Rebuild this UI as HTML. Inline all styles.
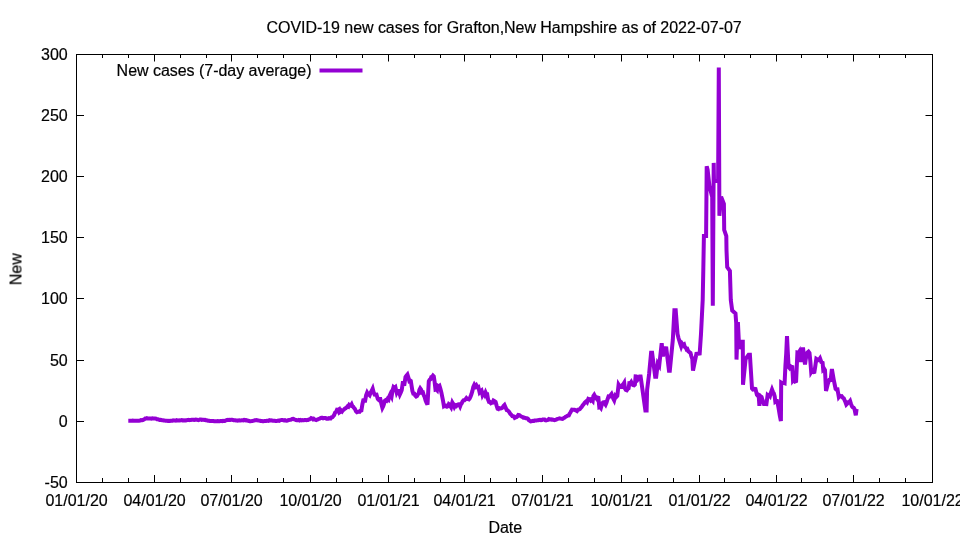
<!DOCTYPE html>
<html><head><meta charset="utf-8"><title>COVID-19 new cases for Grafton,New Hampshire</title>
<style>html,body{margin:0;padding:0;background:#fff;}body{width:960px;height:540px;overflow:hidden;}svg{display:block;}text{font-family:"Liberation Sans",sans-serif;font-size:16px;fill:#000;stroke:#000;stroke-width:0.2px;}</style></head><body>
<svg width="960" height="540" viewBox="0 0 960 540">
<rect x="0" y="0" width="960" height="540" fill="#fff"/>
<path d="M76.5,482.5v-7.5M76.5,54.5v7.0M102.5,482.5v-4.5M102.5,54.5v3.5M128.5,482.5v-4.5M128.5,54.5v3.5M154.5,482.5v-7.5M154.5,54.5v7.0M180.5,482.5v-4.5M180.5,54.5v3.5M206.5,482.5v-4.5M206.5,54.5v3.5M231.5,482.5v-7.5M231.5,54.5v7.0M257.5,482.5v-4.5M257.5,54.5v3.5M283.5,482.5v-4.5M283.5,54.5v3.5M310.5,482.5v-7.5M310.5,54.5v7.0M336.5,482.5v-4.5M336.5,54.5v3.5M362.5,482.5v-4.5M362.5,54.5v3.5M388.5,482.5v-7.5M388.5,54.5v7.0M414.5,482.5v-4.5M414.5,54.5v3.5M440.5,482.5v-4.5M440.5,54.5v3.5M464.5,482.5v-7.5M464.5,54.5v7.0M490.5,482.5v-4.5M490.5,54.5v3.5M516.5,482.5v-4.5M516.5,54.5v3.5M542.5,482.5v-7.5M542.5,54.5v7.0M568.5,482.5v-4.5M568.5,54.5v3.5M594.5,482.5v-4.5M594.5,54.5v3.5M621.5,482.5v-7.5M621.5,54.5v7.0M647.5,482.5v-4.5M647.5,54.5v3.5M673.5,482.5v-4.5M673.5,54.5v3.5M699.5,482.5v-7.5M699.5,54.5v7.0M724.5,482.5v-4.5M724.5,54.5v3.5M750.5,482.5v-4.5M750.5,54.5v3.5M776.5,482.5v-7.5M776.5,54.5v7.0M801.5,482.5v-4.5M801.5,54.5v3.5M827.5,482.5v-4.5M827.5,54.5v3.5M853.5,482.5v-7.5M853.5,54.5v7.0M879.5,482.5v-4.5M879.5,54.5v3.5M905.5,482.5v-4.5M905.5,54.5v3.5M932.5,482.5v-7.5M932.5,54.5v7.0M76.5,54.5h7.5M932.5,54.5h-7M76.5,115.5h7.5M932.5,115.5h-7M76.5,176.5h7.5M932.5,176.5h-7M76.5,237.5h7.5M932.5,237.5h-7M76.5,298.5h7.5M932.5,298.5h-7M76.5,360.5h7.5M932.5,360.5h-7M76.5,421.5h7.5M932.5,421.5h-7M76.5,482.5h7.5M932.5,482.5h-7" stroke="#000" stroke-width="1" fill="none"/>
<rect x="76.5" y="54.5" width="856.0" height="428.0" fill="none" stroke="#000" stroke-width="1"/>
<g opacity="0.999">
<text x="76.60" y="506" text-anchor="middle">01/01/20</text>
<text x="154.60" y="506" text-anchor="middle">04/01/20</text>
<text x="231.60" y="506" text-anchor="middle">07/01/20</text>
<text x="310.60" y="506" text-anchor="middle">10/01/20</text>
<text x="388.60" y="506" text-anchor="middle">01/01/21</text>
<text x="464.60" y="506" text-anchor="middle">04/01/21</text>
<text x="542.60" y="506" text-anchor="middle">07/01/21</text>
<text x="621.60" y="506" text-anchor="middle">10/01/21</text>
<text x="699.60" y="506" text-anchor="middle">01/01/22</text>
<text x="776.60" y="506" text-anchor="middle">04/01/22</text>
<text x="853.60" y="506" text-anchor="middle">07/01/22</text>
<text x="932.60" y="506" text-anchor="middle">10/01/22</text>
<text x="67.7" y="60.40" text-anchor="end">300</text>
<text x="67.7" y="121.40" text-anchor="end">250</text>
<text x="67.7" y="182.40" text-anchor="end">200</text>
<text x="67.7" y="243.40" text-anchor="end">150</text>
<text x="67.7" y="304.40" text-anchor="end">100</text>
<text x="67.7" y="366.40" text-anchor="end">50</text>
<text x="67.7" y="427.40" text-anchor="end">0</text>
<text x="67.7" y="488.40" text-anchor="end">-50</text>
<text x="266.6" y="33" textLength="475.1" lengthAdjust="spacing">COVID-19 new cases for Grafton,New Hampshire as of 2022-07-07</text>
<text x="505.3" y="532.5" text-anchor="middle">Date</text>
<text transform="translate(21.5,269.25) rotate(-90)" text-anchor="middle">New</text>
<text x="116.6" y="76" textLength="194.9" lengthAdjust="spacing">New cases (7-day average)</text>
</g>
<path d="M319.5,70.5H362.5" stroke="#9400d3" stroke-width="4" fill="none"/>
<polyline fill="none" stroke="#9400d3" stroke-width="4" stroke-linejoin="miter" stroke-miterlimit="3.8" stroke-linecap="butt" points="128.3,420.7 129.2,420.7 130.1,420.8 131.0,420.7 131.9,420.7 132.8,420.6 133.7,420.7 134.5,420.8 135.4,420.7 136.3,420.8 137.2,420.7 138.1,420.7 139.0,420.7 140.0,420.6 141.0,420.1 142.0,420.2 142.8,420.0 143.6,419.6 144.4,419.3 145.2,418.6 146.0,418.6 146.9,418.2 147.8,418.4 148.7,418.4 149.6,418.6 150.5,418.5 151.4,418.6 152.3,418.3 153.2,418.5 154.1,418.5 155.0,418.4 156.0,418.6 157.0,419.3 158.0,419.3 158.8,419.6 159.6,419.9 160.4,419.8 161.2,420.0 162.0,420.3 162.9,420.3 163.7,420.5 164.6,420.6 165.4,420.7 166.3,420.7 167.1,420.7 168.0,420.9 168.9,420.8 169.8,420.9 170.6,420.7 171.5,420.7 172.4,420.7 173.2,420.4 174.1,420.6 175.0,420.5 175.8,420.6 176.7,420.2 177.5,420.4 178.3,420.4 179.2,420.3 180.0,420.4 180.8,420.3 181.7,420.1 182.5,420.4 183.3,420.3 184.2,420.4 185.0,420.2 185.8,420.4 186.7,420.2 187.5,420.1 188.3,419.9 189.2,420.1 190.0,419.9 190.8,419.9 191.7,419.7 192.5,419.7 193.3,419.8 194.2,420.0 195.0,419.8 195.8,419.5 196.7,419.6 197.5,419.9 198.3,420.1 199.2,419.9 200.0,419.5 200.8,419.5 201.7,419.9 202.5,419.8 203.3,419.7 204.2,420.0 205.0,419.9 205.8,420.2 206.6,420.3 207.4,420.5 208.2,420.7 209.0,420.8 209.9,421.0 210.8,421.0 211.7,421.0 212.6,421.1 213.4,421.0 214.3,421.2 215.2,421.3 216.1,421.3 217.0,421.3 217.9,421.1 218.8,421.2 219.6,421.2 220.5,421.0 221.4,421.0 222.2,421.1 223.1,420.8 224.0,420.9 224.8,420.9 225.6,420.5 226.4,420.2 227.2,420.1 228.0,419.8 228.8,419.9 229.6,419.8 230.4,420.0 231.2,419.7 232.0,419.8 232.8,419.9 233.6,420.2 234.4,420.2 235.2,420.2 236.0,420.5 236.8,420.6 237.6,420.7 238.4,420.4 239.2,420.3 240.0,420.5 240.8,420.4 241.7,420.3 242.5,420.2 243.3,420.4 244.2,419.9 245.0,420.0 245.8,420.4 246.6,420.2 247.4,420.5 248.3,420.8 249.1,421.0 249.9,421.2 250.7,421.3 251.5,421.1 252.3,420.9 253.1,420.8 254.0,420.6 254.8,420.3 255.6,420.2 256.4,420.0 257.3,420.3 258.2,420.4 259.1,420.6 260.0,420.8 260.9,421.1 261.8,421.1 262.7,421.3 263.5,421.2 264.4,421.1 265.2,421.0 266.0,421.0 266.9,420.8 267.7,420.7 268.5,420.8 269.4,420.2 270.2,420.4 271.1,420.3 272.0,420.6 272.9,420.7 273.8,420.8 274.7,420.8 275.6,421.0 276.5,421.0 277.4,420.9 278.2,420.6 279.1,420.8 279.9,420.4 280.8,420.1 281.6,420.0 282.4,420.1 283.3,420.2 284.1,420.4 284.9,420.2 285.8,420.6 286.6,420.8 287.4,420.7 288.2,420.1 289.0,420.0 289.9,419.9 290.7,419.7 291.5,419.5 292.3,419.0 293.2,418.9 294.2,419.4 295.1,419.6 296.0,420.0 297.0,420.2 297.9,420.3 298.7,419.9 299.6,420.4 300.4,420.0 301.3,420.3 302.1,420.0 302.9,420.2 303.8,420.3 304.6,420.1 305.5,420.1 306.3,420.2 307.2,420.0 308.0,420.0 308.8,419.5 309.6,419.4 310.4,418.8 311.2,418.1 312.0,418.4 312.9,419.3 313.7,418.8 314.5,419.5 315.4,419.6 316.2,420.0 317.1,419.6 318.0,419.4 318.8,418.9 319.7,418.6 320.6,418.1 321.4,417.8 322.3,417.8 323.1,418.3 324.0,418.0 324.8,418.0 325.6,418.0 326.5,418.6 327.3,418.5 328.2,418.7 329.0,418.2 329.9,418.5 330.7,418.5 331.5,417.4 332.4,417.2 333.2,416.2 334.1,415.1 335.1,412.6 336.1,412.0 337.0,409.7 337.9,409.9 338.9,409.3 339.5,412.4 340.4,411.8 341.2,410.5 342.1,411.4 342.9,410.2 343.8,409.7 344.8,408.6 345.7,408.2 346.7,407.4 347.6,406.3 348.4,406.7 349.2,405.0 350.0,405.7 350.8,405.5 351.6,404.3 352.4,406.3 353.1,406.6 353.9,407.9 354.9,409.0 356.0,411.3 357.0,412.3 357.9,412.0 358.8,411.6 359.6,411.8 360.5,410.7 361.4,410.4 362.4,404.2 363.3,400.3 364.2,400.1 365.2,400.3 366.1,395.3 367.1,392.7 367.9,394.1 368.8,394.6 369.6,395.3 370.6,392.7 371.7,390.9 372.7,388.7 373.6,392.2 374.6,394.6 375.6,394.7 376.5,394.6 377.8,399.0 378.6,399.8 379.5,399.0 380.3,399.0 381.4,404.0 382.4,407.9 383.2,406.3 383.9,404.1 384.7,400.9 385.6,400.2 386.6,400.8 387.6,398.9 388.5,399.7 389.4,396.2 390.4,394.0 391.6,396.5 392.6,390.4 393.5,387.1 394.4,387.9 395.4,387.1 396.7,392.7 397.6,390.9 398.6,390.9 399.8,394.6 400.8,392.4 401.7,390.2 403.0,381.4 404.2,385.8 405.5,377.0 406.4,375.6 407.4,374.5 408.4,377.6 409.3,380.8 410.1,380.3 410.8,380.8 411.6,386.0 412.4,390.9 413.3,393.6 414.3,393.7 415.2,395.5 416.2,396.5 417.0,396.1 417.9,394.3 418.7,393.4 419.4,389.9 420.2,388.3 421.1,389.6 422.0,392.6 422.9,392.4 423.8,395.3 424.7,397.3 425.6,400.6 426.6,402.8 427.5,404.7 428.8,381.4 429.6,379.9 430.5,379.2 431.3,377.0 432.1,376.9 433.0,375.6 433.8,376.4 434.6,381.7 435.5,389.6 436.2,389.4 437.0,390.2 437.6,385.8 438.6,386.5 439.5,385.8 440.4,388.8 441.4,392.7 442.2,396.6 443.1,401.1 443.9,406.0 444.7,405.4 445.5,406.2 446.3,405.9 447.1,406.6 447.9,406.2 448.8,404.1 449.6,404.7 450.4,406.1 451.1,407.2 452.3,402.5 453.4,404.4 454.4,406.9 455.3,405.3 456.3,406.0 457.2,404.9 458.2,404.4 459.1,404.2 460.1,406.3 460.9,404.2 461.8,403.1 462.6,401.3 463.6,400.2 464.5,400.2 465.4,399.4 466.4,398.1 467.2,398.9 468.1,399.2 468.9,399.4 469.7,398.5 470.6,396.4 471.4,394.3 472.4,390.9 473.3,386.8 474.3,384.7 475.4,386.5 476.4,385.3 477.4,387.1 478.3,386.8 479.6,392.4 480.6,391.3 481.5,390.6 482.5,395.0 483.2,393.7 484.0,393.1 484.8,394.7 485.6,392.5 486.4,394.3 487.2,394.3 488.1,399.6 489.0,401.9 489.9,402.0 490.9,403.2 491.8,402.7 492.6,402.6 493.5,400.6 494.6,401.2 495.6,401.9 496.6,405.6 497.6,408.8 498.4,409.1 499.2,408.1 500.0,408.4 500.8,408.5 501.6,408.2 502.6,407.5 503.5,406.0 504.5,405.0 505.6,407.5 506.7,410.1 507.5,410.3 508.4,411.2 509.2,412.0 510.2,413.7 511.3,414.8 512.3,416.1 513.1,416.2 513.9,416.5 514.7,417.8 515.5,417.4 516.5,417.1 517.4,416.4 518.3,414.9 519.3,415.1 520.3,415.9 521.4,416.5 522.4,417.0 523.3,417.7 524.2,417.6 525.0,417.8 525.9,418.2 526.8,418.3 527.8,418.7 528.7,420.0 529.6,420.7 530.6,421.4 531.4,421.2 532.3,421.1 533.1,420.8 534.0,420.9 534.8,420.4 535.7,420.4 536.5,420.4 537.4,420.3 538.2,420.2 539.1,420.0 540.0,419.9 540.9,420.2 541.8,420.0 542.7,419.5 543.6,419.4 544.5,419.5 545.2,420.3 546.0,420.5 547.0,420.2 547.9,419.9 548.9,419.1 549.8,419.4 550.8,419.3 551.7,419.7 552.6,419.5 553.6,419.9 554.5,420.2 555.4,419.9 556.2,419.7 557.0,419.1 557.9,418.9 558.8,418.7 559.6,418.3 560.6,418.6 561.5,418.8 562.5,418.9 563.3,418.4 564.1,417.7 564.9,417.5 565.7,416.7 566.7,416.3 567.8,415.6 568.8,415.4 569.6,413.8 570.4,412.5 571.2,411.1 572.0,409.7 572.8,409.8 573.7,409.7 574.5,409.7 575.3,410.2 576.2,410.5 577.0,411.0 578.0,409.7 578.9,409.6 579.8,409.2 580.8,407.9 581.8,406.8 582.7,405.3 583.6,404.3 584.6,402.8 585.4,402.1 586.3,401.3 587.1,402.2 588.3,399.0 589.2,399.4 590.1,399.2 590.9,400.6 591.8,399.9 592.7,400.9 593.4,395.9 594.2,394.8 595.1,396.5 595.9,397.8 596.7,398.8 597.6,397.6 598.4,397.8 599.3,407.2 600.1,406.9 600.9,407.9 602.2,403.4 603.2,402.4 604.1,402.2 604.9,403.7 605.6,404.7 606.6,402.3 607.5,399.3 608.5,396.5 609.5,396.6 610.6,395.3 611.6,394.0 612.5,396.1 613.3,398.6 614.2,400.3 615.4,395.9 616.3,397.0 617.3,395.9 618.6,384.6 619.6,386.2 620.7,387.1 621.7,387.1 622.5,384.8 623.4,384.0 624.2,382.7 624.9,388.3 625.8,389.8 626.8,390.2 627.7,389.0 628.6,388.3 629.3,383.3 630.2,383.5 631.2,382.0 632.4,384.6 633.2,385.1 634.1,385.3 634.9,384.6 635.6,376.4 636.4,376.5 637.1,377.0 638.0,379.1 638.9,377.8 639.7,376.4 640.6,376.4 645.4,410.4 646.6,410.4 647.1,390.0 649.1,374.0 651.1,352.8 652.1,352.8 655.2,376.7 656.2,376.7 657.8,363.5 659.2,365.7 661.7,343.1 662.9,356.5 664.3,348.2 666.3,348.4 669.0,370.7 669.8,370.7 672.8,340.0 674.4,310.2 675.7,310.2 677.5,334.0 678.5,338.0 679.4,341.0 680.3,343.8 681.2,346.5 682.2,343.8 683.1,345.1 684.1,344.4 684.9,347.0 685.8,347.7 686.6,349.4 687.4,349.1 688.3,351.3 689.1,352.0 690.5,353.0 691.4,356.3 692.3,358.9 693.0,370.7 696.4,353.9 699.7,353.5 701.0,334.0 702.7,300.0 703.3,270.0 703.9,236.0 706.1,236.0 706.7,166.3 707.6,169.6 709.4,186.0 712.2,197.0 712.8,305.8 713.7,162.9 714.0,181.0 718.1,181.0 718.8,67.6 719.4,215.7 721.1,196.7 723.9,204.0 724.2,230.0 726.3,236.0 726.5,250.0 727.2,267.0 729.9,271.0 730.8,300.0 732.2,310.5 735.5,313.5 736.2,323.0 736.5,359.6 737.9,322.0 739.2,348.9 741.5,341.8 742.8,341.8 743.0,384.7 745.6,359.0 748.6,354.8 749.9,354.8 752.0,388.5 752.9,389.5 753.8,389.3 754.6,388.9 755.5,389.0 756.9,394.7 757.8,395.7 758.7,395.5 759.4,405.9 760.2,396.0 761.6,397.0 762.4,399.7 763.1,401.8 763.9,404.0 764.7,404.0 765.6,403.9 766.4,404.0 767.6,395.2 768.4,395.9 769.2,395.0 770.0,396.0 771.0,392.3 772.0,389.5 772.9,391.8 773.8,393.2 774.7,396.5 775.3,401.5 776.1,400.9 777.0,400.9 778.0,404.9 779.0,410.7 779.9,416.1 780.9,421.0 781.2,382.6 782.1,383.2 782.9,382.9 783.8,382.9 784.6,383.2 785.4,366.1 786.2,353.6 787.0,336.0 787.8,352.0 788.6,367.0 789.5,368.0 790.5,366.2 791.4,366.8 792.3,367.0 793.0,380.3 794.0,379.0 795.1,381.4 796.1,381.0 797.4,352.6 798.5,352.9 799.5,351.3 800.2,354.8 801.0,362.0 802.0,354.7 803.0,347.5 804.0,356.6 805.0,364.5 805.8,358.7 806.7,354.7 807.5,352.5 808.5,351.7 809.5,353.0 810.4,361.9 811.2,372.0 812.0,370.7 812.8,372.0 813.6,372.2 814.4,372.0 815.3,366.1 816.3,358.9 817.2,359.5 818.1,360.1 819.1,359.6 820.0,358.3 821.3,362.0 822.6,362.7 823.2,369.6 824.1,368.7 825.0,370.2 826.0,391.0 826.8,387.9 827.6,384.7 828.5,381.9 829.3,380.0 830.6,380.0 831.9,369.0 832.8,374.4 833.8,380.0 834.7,384.5 835.6,388.9 836.5,389.6 837.5,389.5 838.8,397.0 839.8,395.7 840.7,396.4 841.7,396.2 842.8,397.7 843.8,398.3 844.6,400.2 845.5,402.3 846.3,404.5 847.2,403.6 848.2,402.3 849.1,402.3 850.1,401.0 851.0,403.9 852.0,406.5 852.8,407.3 853.7,407.8 854.5,409.0 855.8,415.3 856.6,409.0"/>
</svg></body></html>
